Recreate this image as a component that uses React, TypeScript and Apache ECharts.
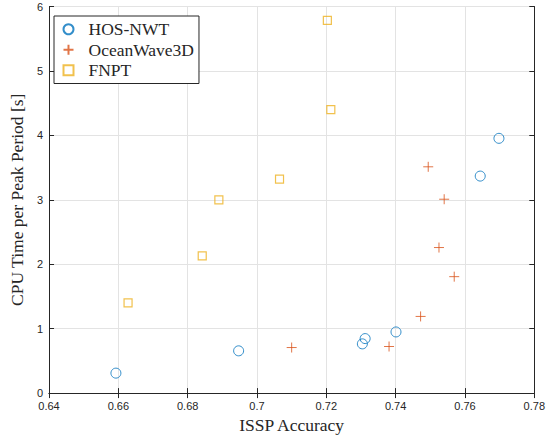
import React, { useEffect, useRef } from "react";
import * as echarts from "echarts";

const hosX = [0.6593, 0.6947, 0.7304, 0.7312, 0.7401, 0.7644, 0.7698];
const hosY = [0.31, 0.656, 0.764, 0.846, 0.949, 3.368, 3.954];

const owX = [0.71, 0.7381, 0.7472, 0.7569, 0.7525, 0.754, 0.7494];
const owY = [0.707, 0.723, 1.19, 1.807, 2.259, 3.009, 3.512];

const fnptX = [0.6628, 0.6842, 0.689, 0.7065, 0.7203, 0.7213];
const fnptY = [1.4, 2.13, 3.0, 3.32, 5.786, 4.4];

const seriesNames = ["HOS-NWT", "OceanWave3D", "FNPT"];
const xTitle = "ISSP Accuracy";
const yTitle = "CPU Time per Peak Period [s]";

const pairs = (xs: number[], ys: number[]) => xs.map((x, i) => [x, ys[i]]);

const PLUS = "path://M0,5L10,5M5,0L5,10";
const SQUARE = "path://M0,0L10,0L10,10L0,10Z";

export default function App() {
  const ref = useRef<HTMLDivElement>(null);
  useEffect(() => {
    if (!ref.current) return;
    const chart = echarts.init(ref.current, undefined, { renderer: "svg" });
    const axisColor = "#262626";
    const gridColor = "#e3e3e3";
    const tickFont = { fontFamily: "Liberation Sans", fontSize: 11, color: axisColor };
    const titleFont = { fontFamily: "Liberation Serif", fontSize: 17.5, color: axisColor };
    const common = {
      axisLine: { show: true, lineStyle: { color: axisColor, width: 1 } },
      axisTick: { show: true, inside: true, length: 5, lineStyle: { color: axisColor } },
    };
    chart.setOption({
      animation: false,
      backgroundColor: "#fff",
      grid: { left: 45, right: 11, top: 6.5, bottom: 43.5, containLabel: false },
      legend: {
        left: 54,
        top: 16,
        orient: "vertical",
        padding: [3, 5, 3, 7],
        itemWidth: 30,
        itemHeight: 10,
        itemGap: 0,
        symbolKeepAspect: true,
        borderColor: axisColor,
        borderWidth: 1,
        backgroundColor: "#fff",
        textStyle: { ...titleFont, lineHeight: 20.5 },
        data: seriesNames,
      },
      xAxis: [
        {
          type: "value",
          min: 0.64,
          max: 0.78,
          interval: 0.02,
          position: "bottom",
          ...common,
          axisLabel: { ...tickFont, margin: 7, formatter: (v: number) => String(parseFloat(v.toFixed(2))) },
          splitLine: { show: true, lineStyle: { color: gridColor } },
          name: xTitle,
          nameLocation: "middle",
          nameGap: 21,
          nameTextStyle: titleFont,
        },
        {
          type: "value",
          min: 0.64,
          max: 0.78,
          interval: 0.02,
          position: "top",
          ...common,
          axisLabel: { show: false },
          splitLine: { show: false },
        },
      ],
      yAxis: [
        {
          type: "value",
          min: 0,
          max: 6,
          interval: 1,
          position: "left",
          ...common,
          axisLabel: { ...tickFont, margin: 6 },
          splitLine: { show: true, lineStyle: { color: gridColor } },
          name: yTitle,
          nameLocation: "middle",
          nameGap: 16,
          nameTextStyle: titleFont,
        },
        {
          type: "value",
          min: 0,
          max: 6,
          interval: 1,
          position: "right",
          ...common,
          axisLabel: { show: false },
          splitLine: { show: false },
        },
      ],
      series: [
        {
          name: seriesNames[0],
          type: "scatter",
          symbol: "circle",
          symbolSize: 10,
          itemStyle: { color: "rgba(0,0,0,0)", borderColor: "#0072BD", borderWidth: 1 },
          data: pairs(hosX, hosY),
        },
        {
          name: seriesNames[1],
          type: "scatter",
          symbol: PLUS,
          symbolSize: 10,
          itemStyle: { color: "none", borderColor: "#D95319", borderWidth: 1 },
          data: pairs(owX, owY),
        },
        {
          name: seriesNames[2],
          type: "scatter",
          symbol: SQUARE,
          symbolSize: 8,
          itemStyle: { color: "rgba(0,0,0,0)", borderColor: "#EDB120", borderWidth: 1.2 },
          data: pairs(fnptX, fnptY),
        },
      ],
    });
    return () => chart.dispose();
  }, []);
  return (
    <div
      ref={ref}
      style={{ position: "fixed", left: 0, top: 0, width: 548, height: 439, background: "#fff" }}
    />
  );
}
